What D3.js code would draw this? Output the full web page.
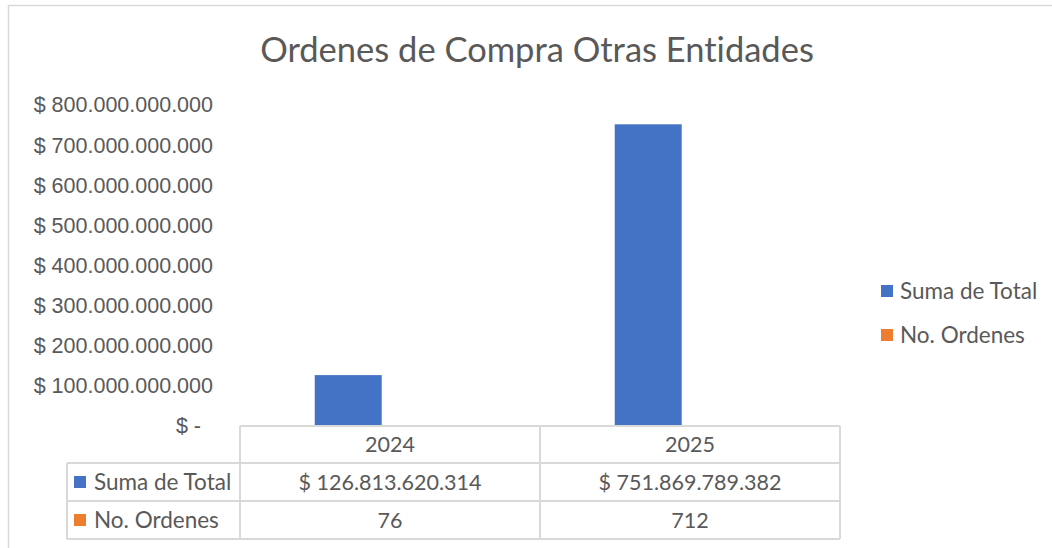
<!DOCTYPE html>
<meta charset="utf-8">
<head>
    <title>Ordenes de Compra Otras Entidades</title>
    <script src="https://cdn.jsdelivr.net/npm/d3@7"></script>
    <style>
        html, body { margin: 0; padding: 0; background: white; }
        svg { display: block; font-family: Lato, "Open Sans", sans-serif; font-variant-ligatures: none; }
        .lbl { fill: #595959; }
    </style>
</head>
<body>
    <div id="chart"></div>
    <script>
        // data
        var years = ["2024", "2025"];
        var seriesNames = ["Suma de Total", "No. Ordenes"];
        var seriesColors = ["#4472c4", "#ed7d31"];
        var sumaTotal = [126813620314, 751869789382];
        var noOrdenes = [76, 712];
        var yMax = 800000000000;

        var width = 1052, height = 548;
        var grid = "#d9d9d9";
        var numSize = "21.5px", wordSize = "22.5px";

        var locale = d3.formatLocale({decimal: ",", thousands: ".", grouping: [3], currency: ["$ ", ""]});
        var money = locale.format("$,");

        var svg = d3.select("#chart").append("svg")
            .attr("width", width)
            .attr("height", height);

        // chart area border (right/bottom edges cut off in the picture)
        svg.append("rect")
            .attr("x", 8.5).attr("y", 5.5)
            .attr("width", width + 20).attr("height", height + 20)
            .attr("fill", "white")
            .attr("stroke", grid).attr("stroke-width", 1.5);

        // title
        svg.append("text")
            .attr("class", "lbl")
            .attr("x", 537).attr("y", 62)
            .attr("text-anchor", "middle")
            .style("font-size", "34.5px")
            .text("Ordenes de Compra Otras Entidades");

        // scales
        var y = d3.scaleLinear().domain([0, yMax]).range([426, 105]);
        var x0 = d3.scaleBand().domain(years).range([240, 840]);
        var x1 = d3.scaleBand().domain(seriesNames).range([0, x0.bandwidth()])
            .paddingOuter(1.24).align(0.45);

        // y axis labels
        var yAxis = svg.append("g")
            .attr("transform", "translate(213,0)")
            .call(d3.axisLeft(y).ticks(8).tickSize(0).tickPadding(0)
                .tickFormat(function(d) { return d === 0 ? "$ -" : money(d); }));
        yAxis.select(".domain").remove();
        yAxis.selectAll("text")
            .attr("class", "lbl")
            .attr("fill", null)
            .style("font-size", numSize)
            .attr("dx", function(d) { return d === 0 ? -12 : 0; });

        // bars
        var rows = years.map(function(yr, i) {
            return {year: yr, values: [sumaTotal[i], noOrdenes[i]]};
        });
        var groups = svg.selectAll("g.cat")
            .data(rows)
            .enter().append("g")
            .attr("class", "cat")
            .attr("transform", function(d) { return "translate(" + x0(d.year) + ",0)"; });
        groups.selectAll("rect")
            .data(function(d) { return d.values.map(function(v, j) { return {name: seriesNames[j], value: v, color: seriesColors[j]}; }); })
            .enter().append("rect")
            .attr("x", function(d) { return x1(d.name); })
            .attr("width", x1.bandwidth())
            .attr("y", function(d) { return y(d.value); })
            .attr("height", function(d) { return y(0) - y(d.value); })
            .attr("fill", function(d) { return d.color; });

        // data table under the plot
        var rowTops = [426, 463, 501, 539];
        var labelLeft = 67;
        var table = svg.append("g");
        // horizontal lines
        rowTops.forEach(function(t, i) {
            table.append("line")
                .attr("x1", i === 0 ? x0.range()[0] : labelLeft)
                .attr("x2", x0.range()[1])
                .attr("y1", t).attr("y2", t)
                .attr("stroke", grid).attr("stroke-width", 2);
        });
        // vertical lines
        var vx = [x0.range()[0]].concat(years.map(function(yr) { return x0(yr) + x0.bandwidth(); }));
        vx.forEach(function(v) {
            table.append("line")
                .attr("x1", v).attr("x2", v)
                .attr("y1", rowTops[0]).attr("y2", rowTops[3])
                .attr("stroke", grid).attr("stroke-width", 2);
        });
        table.append("line")
            .attr("x1", labelLeft).attr("x2", labelLeft)
            .attr("y1", rowTops[1]).attr("y2", rowTops[3])
            .attr("stroke", grid).attr("stroke-width", 2);

        // header: years
        years.forEach(function(yr) {
            table.append("text").attr("class", "lbl")
                .attr("x", x0(yr) + x0.bandwidth() / 2)
                .attr("y", (rowTops[0] + rowTops[1]) / 2)
                .attr("dy", "0.35em")
                .attr("text-anchor", "middle")
                .style("font-size", numSize)
                .text(yr);
        });
        // series rows
        var tableValues = [sumaTotal.map(money), noOrdenes.map(String)];
        seriesNames.forEach(function(name, j) {
            var mid = (rowTops[j + 1] + rowTops[j + 2]) / 2;
            table.append("rect")
                .attr("x", 74).attr("y", mid - 6)
                .attr("width", 12).attr("height", 12)
                .attr("fill", seriesColors[j]);
            table.append("text").attr("class", "lbl")
                .attr("x", 94).attr("y", mid).attr("dy", "0.35em")
                .style("font-size", wordSize)
                .text(name);
            years.forEach(function(yr, i) {
                table.append("text").attr("class", "lbl")
                    .attr("x", x0(yr) + x0.bandwidth() / 2)
                    .attr("y", mid).attr("dy", "0.35em")
                    .attr("text-anchor", "middle")
                    .style("font-size", numSize)
                    .text(tableValues[j][i]);
            });
        });

        // legend
        var legend = svg.append("g").attr("transform", "translate(881,291)");
        seriesNames.forEach(function(name, j) {
            var g = legend.append("g").attr("transform", "translate(0," + (j * 44) + ")");
            g.append("rect").attr("x", 0).attr("y", -6)
                .attr("width", 12).attr("height", 12)
                .attr("fill", seriesColors[j]);
            g.append("text").attr("class", "lbl")
                .attr("x", 19).attr("dy", "0.35em")
                .style("font-size", wordSize)
                .text(name);
        });
    </script>
</body>
</html>
